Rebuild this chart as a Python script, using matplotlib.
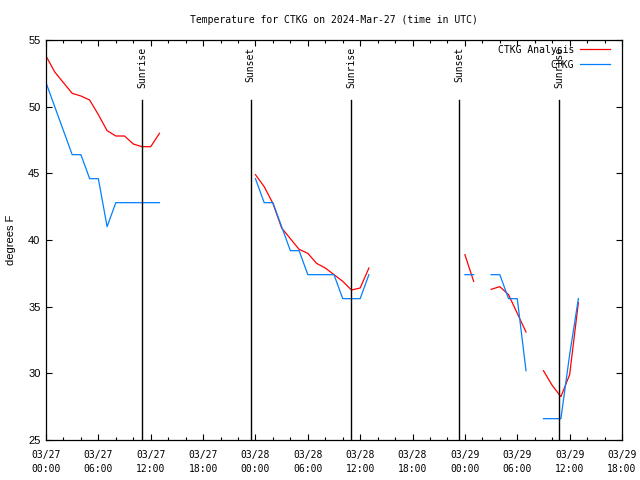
import numpy as np
import matplotlib
matplotlib.use("Agg")
from matplotlib import pyplot as plt
from matplotlib.ticker import MultipleLocator, FixedLocator

nan = np.nan

# hours since 2024-03-27 00:00 UTC
hours = np.arange(0, 62)

analysis = np.full(62, nan)
analysis[0:14] = [53.8, 52.6, 51.8, 51.0, 50.8, 50.5, 49.4, 48.2, 47.8, 47.8,
                  47.2, 47.0, 47.0, 48.0]
analysis[24:38] = [44.9, 44.0, 42.75, 40.9, 40.1, 39.3, 39.0, 38.25, 37.9, 37.4,
                   36.9, 36.25, 36.4, 37.9]
analysis[48:50] = [38.9, 36.9]
analysis[51:56] = [36.3, 36.5, 35.9, 34.5, 33.1]
analysis[57:62] = [30.2, 29.1, 28.25, 29.9, 35.3]

obs = np.full(62, nan)
obs[0:14] = [51.8, 50.0, 48.2, 46.4, 46.4, 44.6, 44.6, 41.0, 42.8, 42.8,
             42.8, 42.8, 42.8, 42.8]
obs[24:38] = [44.6, 42.8, 42.8, 41.0, 39.2, 39.2, 37.4, 37.4, 37.4, 37.4,
              35.6, 35.6, 35.6, 37.4]
obs[48:50] = [37.4, 37.4]
obs[51:56] = [37.4, 37.4, 35.6, 35.6, 30.2]
obs[57:62] = [26.6, 26.6, 26.6, 31.4, 35.6]

sun_hours = [11.0, 23.45, 35.0, 47.35, 58.8]
sun_names = ["Sunrise", "Sunset", "Sunrise", "Sunset", "Sunrise"]

tick_hours = list(range(0, 67, 6))
tick_labels = ["03/27\n00:00", "03/27\n06:00", "03/27\n12:00", "03/27\n18:00",
               "03/28\n00:00", "03/28\n06:00", "03/28\n12:00", "03/28\n18:00",
               "03/29\n00:00", "03/29\n06:00", "03/29\n12:00", "03/29\n18:00"]

mono = "DejaVu Sans Mono"
sans = "Liberation Sans"

fig = plt.figure(figsize=(6.4, 4.8), dpi=100)
ax = fig.add_axes([46/640, 40/480, 576/640, 400/480])

ax.plot(hours, analysis, color="#ff0000", lw=0.9, label="CTKG Analysis")
ax.plot(hours, obs, color="#0080ff", lw=0.9, label="CTKG")

for h, name in zip(sun_hours, sun_names):
    ax.plot([h, h], [25, 50.5], color="black", lw=1.0)
    ax.text(h, 54.5, name, rotation=90, ha="center", va="top",
            family=mono, fontsize=7)

ax.set_xlim(0, 66)
ax.set_ylim(25, 55)
ax.xaxis.set_major_locator(FixedLocator(tick_hours))
ax.xaxis.set_minor_locator(MultipleLocator(2))
ax.set_xticklabels(tick_labels, family=mono, fontsize=7, linespacing=1.5)
ax.yaxis.set_major_locator(MultipleLocator(5))
for lab in ax.get_yticklabels():
    lab.set_family(sans)
    lab.set_fontsize(8)
ax.tick_params(which="both", direction="in", top=True, right=True, width=0.8)
ax.tick_params(which="major", length=4.5)
ax.tick_params(which="minor", length=2.5)
ax.tick_params(axis="x", pad=7)
ax.tick_params(axis="y", pad=4)
for s in ax.spines.values():
    s.set_linewidth(0.9)

ax.set_ylabel("degrees F", family=sans, fontsize=8, labelpad=9)
ax.set_title("Temperature for CTKG on 2024-Mar-27 (time in UTC)",
             family=mono, fontsize=7, pad=12)

ax.legend(loc="upper right", bbox_to_anchor=(1 - 7/576, 1.0),
          markerfirst=False, frameon=False,
          handlelength=3.1, handletextpad=0.6, labelspacing=0.5,
          borderaxespad=0.1, prop={"family": mono, "size": 7})

fig.savefig("out.png", dpi=100)
